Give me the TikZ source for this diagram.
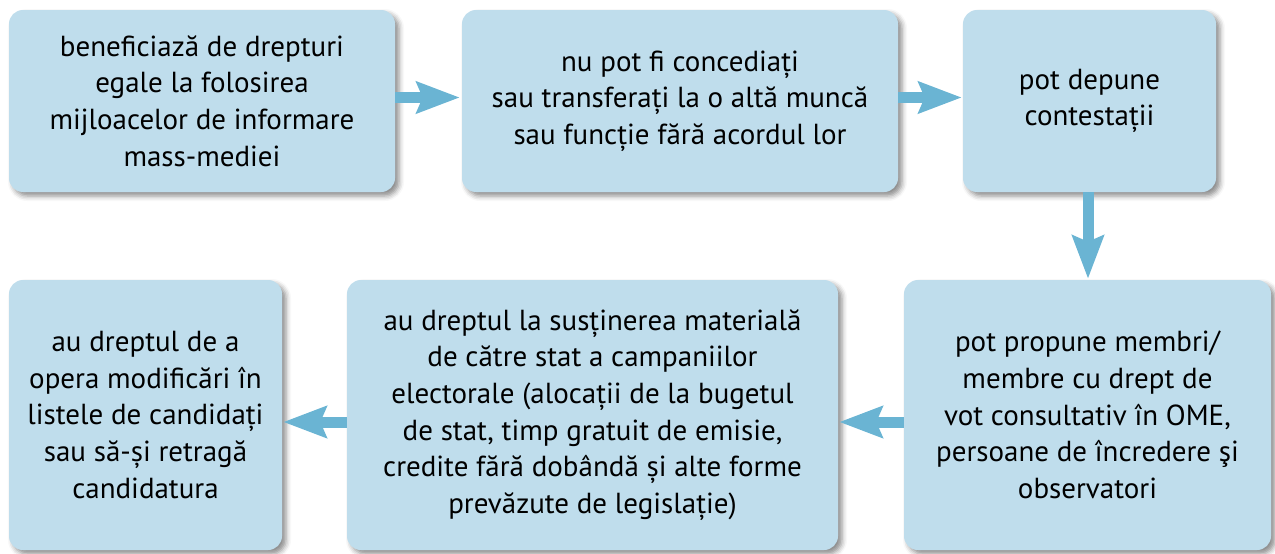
\documentclass[tikz,border=0pt]{standalone}
\usepackage{fontspec}
\setmainfont{PT Sans}
\usetikzlibrary{arrows.meta,shadows.blur}
\definecolor{boxfill}{RGB}{191,221,236}
\definecolor{arrowc}{RGB}{106,180,211}
\begin{document}
\begin{tikzpicture}[x=1pt,y=-1pt,
 box/.style={fill=boxfill, rounded corners=14pt, inner sep=0pt, align=center,
   font=\fontsize{29}{36.6}\selectfont,
   blur shadow={shadow xshift=4pt, shadow yshift=-4pt, shadow blur radius=5pt, shadow opacity=45}},
 conn/.style={draw=arrowc, line width=11pt, -{Stealth[length=43pt,width=31pt,inset=6pt]}}]
\useasboundingbox (0,0) rectangle (1275,554);
\node[box, minimum width=386pt, minimum height=182pt] (b1) at (202,101)
 {beneficiază de drepturi\\egale la folosirea\\mijloacelor de informare\\mass-mediei};
\node[box, minimum width=436pt, minimum height=182pt] (b2) at (680,101)
 {nu pot fi concediați\\sau transferați la o altă muncă\\sau funcție fără acordul lor};
\node[box, minimum width=253pt, minimum height=182pt] (b3) at (1089.5,101)
 {pot depune\\contestații};
\node[box, minimum width=367pt, minimum height=270pt] (b4) at (1087.5,415)
 {pot propune membri/\\membre cu drept de\\vot consultativ în OME,\\persoane de încredere şi\\observatori};
\node[box, minimum width=491pt, minimum height=270pt] (b5) at (592.5,415)
 {au dreptul la susținerea materială\\de către stat a campaniilor\\electorale (alocații de la bugetul\\de stat, timp gratuit de emisie,\\credite fără dobândă și alte forme\\prevăzute de legislație)};
\node[box, minimum width=273pt, minimum height=270pt] (b6) at (145.5,415)
 {au dreptul de a\\opera modificări în\\listele de candidați\\sau să-și retragă\\candidatura};
\draw[conn] ([yshift=3.5pt]b1.east) -- ([yshift=3.5pt,xshift=-2pt]b2.west);
\draw[conn] ([yshift=3.5pt]b2.east) -- ([yshift=3.5pt,xshift=-1pt]b3.west);
\draw[conn] ([xshift=-1.5pt]b3.south) -- ([xshift=-1.5pt,yshift=1pt]b3.south |- b4.north);
\draw[conn] ([yshift=-7pt]b4.west) -- ([yshift=-7pt,xshift=1pt]b5.east);
\draw[conn] ([yshift=-7pt]b5.west) -- ([yshift=-7pt,xshift=1pt]b6.east);
\end{tikzpicture}
\end{document}
